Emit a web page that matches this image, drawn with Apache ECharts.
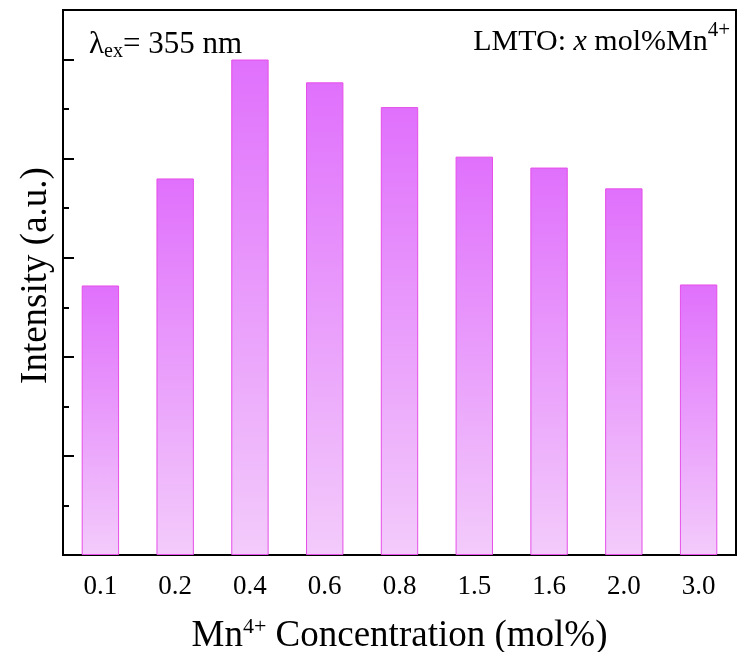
<!DOCTYPE html>
<html>
<head>
<meta charset="utf-8">
<script src="https://cdn.jsdelivr.net/npm/echarts@6/dist/echarts.min.js"></script>
<style>
  html, body { margin: 0; padding: 0; background: #fff; }
  #chart { width: 739px; height: 652px; }
</style>
</head>
<body>
<div id="chart"></div>
<script>
// Mn4+ doping concentrations (mol%) and relative emission intensity (a.u.)
const concentrations = ['0.1', '0.2', '0.4', '0.6', '0.8', '1.5', '1.6', '2.0', '3.0'];
const intensities = [2.72, 3.80, 5.00, 4.77, 4.52, 4.02, 3.91, 3.70, 2.73];

const serif = '"Liberation Serif", "Times New Roman", serif';

const chart = echarts.init(document.getElementById('chart'), null, { renderer: 'canvas' });

chart.setOption({
  animation: false,
  backgroundColor: '#fff',
  grid: {
    left: 63, right: 3, top: 10, bottom: 97,
    containLabel: false,
    outerBoundsMode: 'none',
    show: true, borderColor: '#000', borderWidth: 2, backgroundColor: 'transparent'
  },
  xAxis: {
    type: 'category',
    data: concentrations,
    axisLine: { lineStyle: { color: '#000', width: 2 } },
    axisTick: { show: false },
    axisLabel: { color: '#000', fontFamily: serif, fontSize: 27, margin: 18 },
    name: 'Mn{sup|4+} Concentration (mol%)',
    nameLocation: 'middle',
    nameGap: 61,
    nameTextStyle: {
      color: '#000', fontFamily: serif, fontSize: 37, lineHeight: 40,
      rich: {
        sup: { fontFamily: serif, fontSize: 22, color: '#000', verticalAlign: 'top', lineHeight: 40, padding: [0, 0, 22, 0] }
      }
    }
  },
  yAxis: {
    type: 'value',
    min: 0, max: 5.5, interval: 1,
    axisLine: { show: true, lineStyle: { color: '#000', width: 2 } },
    axisTick: { show: true, inside: true, length: 11, lineStyle: { color: '#000', width: 2 } },
    minorTick: { show: true, splitNumber: 2, length: 6, lineStyle: { color: '#000', width: 2 } },
    axisLabel: { show: false },
    splitLine: { show: false },
    name: 'Intensity (a.u.)',
    nameLocation: 'middle',
    nameGap: 8,
    nameTextStyle: { color: '#000', fontFamily: serif, fontSize: 37, padding: [0, 0, 0, 14] }
  },
  series: [{
    type: 'bar',
    data: intensities,
    barWidth: '50%',
    itemStyle: {
      color: new echarts.graphic.LinearGradient(0, 0, 0, 1, [
        { offset: 0, color: '#e070fc' },
        { offset: 1, color: '#f3cbfb' }
      ]),
      borderColor: '#e64ee8',
      borderWidth: 1
    }
  }],
  graphic: [
    {
      type: 'text', left: 89, top: 28,
      style: {
        text: '{m|λ}{sub|ex}{m|= 355 nm}',
        fill: '#000',
        rich: {
          m: { fontFamily: serif, fontSize: 31, lineHeight: 34, fill: '#000' },
          sub: { fontFamily: serif, fontSize: 20, lineHeight: 34, fill: '#000', padding: [14, 0, 0, 0] }
        }
      }
    },
    {
      type: 'text', right: 9, top: 17,
      style: {
        text: '{m|LMTO: }{i|x}{m| mol%Mn}{sup|4+}',
        fill: '#000',
        rich: {
          m: { fontFamily: serif, fontSize: 30, lineHeight: 44, fill: '#000', padding: [10, 0, 0, 0] },
          i: { fontFamily: serif, fontStyle: 'italic', fontSize: 30, lineHeight: 44, fill: '#000', padding: [10, 0, 0, 0] },
          sup: { fontFamily: serif, fontSize: 21, lineHeight: 44, fill: '#000', padding: [0, 0, 14, 0] }
        }
      }
    }
  ]
});
</script>
</body>
</html>
